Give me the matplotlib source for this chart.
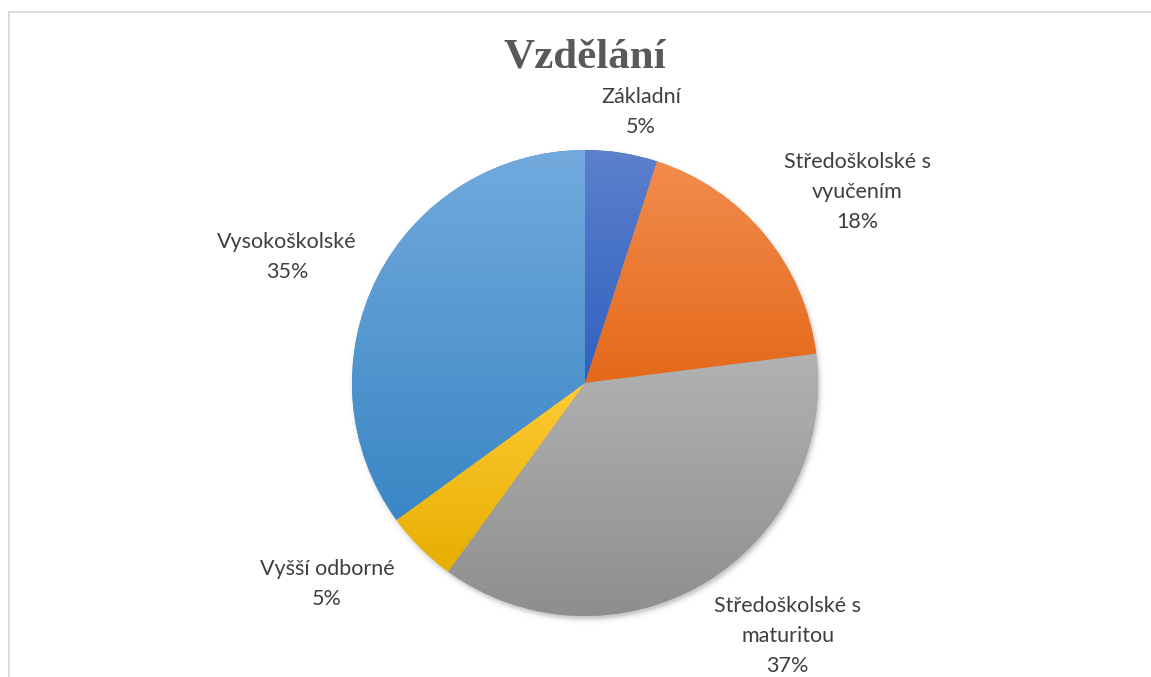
import numpy as np
import matplotlib
matplotlib.use("Agg")
import matplotlib.pyplot as plt
from matplotlib.patches import Rectangle

# ---- data ----
title = "Vzdělání"
categories = ["Základní", "Středoškolské s\nvyučením", "Středoškolské s\nmaturitou",
              "Vyšší odborné", "Vysokoškolské"]
values = [5, 18, 37, 5, 35]
top_colors = ["#5C80CC", "#F28C4E", "#B2B2B2", "#FFCA35", "#72AADD"]
bottom_colors = ["#2F61C0", "#E4691A", "#8E8E8E", "#E6AE00", "#3A86C5"]
# label block centres (data units, pie radius = 1)
label_pos = [(0.240, 1.163), (1.17, 0.82), (0.87, -1.086), (-1.107, -0.862), (-1.279, 0.541)]

W, H = 1151, 677
cx, cy, R = 585, 383, 233

fig = plt.figure(figsize=(W / 100, H / 100), dpi=100)
fig.patch.set_facecolor("white")
ax = fig.add_axes([0, 0, 1, 1])

wedges, _ = ax.pie(values, startangle=90, counterclock=False, radius=1,
                   center=(0, 0), wedgeprops=dict(linewidth=0))
ax.set_xlim((0 - cx) / R, (W - cx) / R)
ax.set_ylim((cy - H) / R, cy / R)
ax.set_aspect("auto")
ax.axis("off")

# soft shadow
xs = np.linspace(-1.2, 1.2, 600)
X, Y = np.meshgrid(xs, xs[::-1])
d = np.hypot(X - 0.008, Y + 0.014)
alpha = 0.45 * 0.5 * (1 - np.tanh((d - 1.0) / 0.012))
shadow = np.zeros(X.shape + (4,))
shadow[..., :3] = 0.45
shadow[..., 3] = alpha
ax.imshow(shadow, extent=[-1.2, 1.2, -1.2, 1.2], zorder=0.5, interpolation="bilinear")


def hex2rgb(h):
    return np.array(matplotlib.colors.to_rgb(h))


for w, ct, cb in zip(wedges, top_colors, bottom_colors):
    verts = w.get_patch_transform().transform(w.get_path().vertices)
    x0, x1 = verts[:, 0].min(), verts[:, 0].max()
    y0, y1 = verts[:, 1].min(), verts[:, 1].max()
    t = np.linspace(0, 1, 256)[:, None]
    grad = (1 - t) * hex2rgb(ct) + t * hex2rgb(cb)
    img = grad[:, None, :]
    w.set_facecolor(tuple((hex2rgb(ct) + hex2rgb(cb)) / 2))
    w.set_zorder(1)
    im = ax.imshow(img, extent=[x0, x1, y0, y1], origin="upper", aspect="auto",
                   zorder=2, interpolation="bilinear")
    im.set_clip_path(w)

ax.set_xlim((0 - cx) / R, (W - cx) / R)
ax.set_ylim((cy - H) / R, cy / R)

for cat, v, (lx, ly) in zip(categories, values, label_pos):
    ax.text(lx, ly, f"{cat}\n{v}%", ha="center", va="center", multialignment="center",
            fontsize=15.5, family="Lato", color="#3F3F3F", linespacing=1.6, zorder=5)

fig.text(584.5 / W, 1 - 57 / H, title, ha="center", va="center", fontsize=31,
         family="Liberation Serif", fontweight="bold", color="#595959")

# chart area frame (top and left edges visible)
fig.add_artist(Rectangle((8.5 / W, -0.1), 1.2, 1 - 12 / H + 0.1, transform=fig.transFigure,
                         fill=False, edgecolor="#D9D9D9", linewidth=1.3))

fig.savefig("out.png", dpi=100, facecolor="white")
